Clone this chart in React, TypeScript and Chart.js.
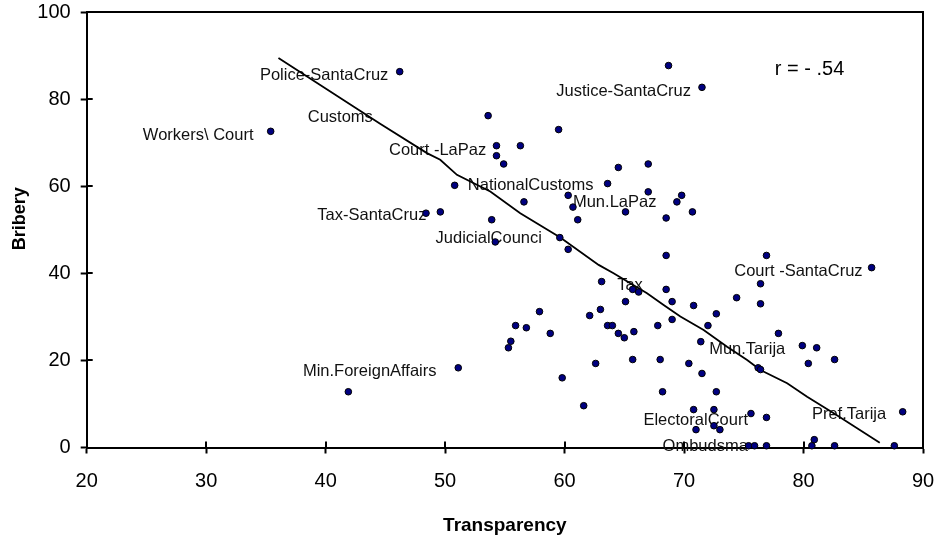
import React, { useEffect, useRef } from "react";
import { Chart, registerables } from "chart.js";

Chart.register(...registerables);

const FONT = "'Liberation Sans', Arial, Helvetica, sans-serif";

// Scatter data: Transparency (x) vs Bribery (y)
const transparency = [
  35.4, 46.2, 68.7, 71.5, 53.6, 59.5, 54.3, 56.3, 54.3, 54.9,
  64.5, 67.0, 50.8, 63.6, 67.0, 60.3, 56.6, 60.7, 65.1, 69.4,
  69.8, 70.7, 68.5, 61.1, 48.4, 49.6, 53.9, 54.2, 59.6, 60.3,
  68.5, 63.1, 65.7, 66.2, 68.5, 65.1, 69.0, 57.9, 63.0, 62.1,
  69.0, 55.9, 56.8, 63.6, 64.0, 67.8, 65.8, 64.5, 65.0, 58.8,
  55.5, 55.3, 51.1, 62.6, 65.7, 68.0, 59.8, 68.2, 61.6, 41.9,
  76.9, 85.7, 76.4, 76.4, 70.8, 74.4, 72.7, 72.0, 71.4, 77.9,
  79.9, 81.1, 82.6, 80.4, 76.2, 76.4, 70.4, 71.5, 72.7, 70.8,
  72.5, 75.6, 76.9, 71.0, 73.0, 72.5, 75.4, 75.9, 76.9, 80.7,
  80.9, 82.6, 87.6, 88.3,
];
const bribery = [
  72.6, 86.3, 87.7, 82.7, 76.2, 73.0, 69.3, 69.3, 67.0, 65.1,
  64.3, 65.1, 60.2, 60.6, 58.7, 57.9, 56.4, 55.2, 54.1, 56.4,
  57.9, 54.1, 52.7, 52.3, 53.8, 54.1, 52.3, 47.2, 48.2, 45.5,
  44.1, 38.1, 36.3, 35.7, 36.3, 33.5, 33.5, 31.2, 31.7, 30.3,
  29.4, 28.0, 27.5, 28.0, 28.0, 28.0, 26.6, 26.2, 25.2, 26.2,
  24.4, 22.9, 18.3, 19.3, 20.2, 20.2, 16.0, 12.8, 9.6, 12.8,
  44.1, 41.3, 37.6, 33.0, 32.6, 34.4, 30.7, 28.0, 24.3, 26.2,
  23.4, 22.9, 20.2, 19.3, 18.3, 17.9, 19.3, 17.0, 12.8, 8.7,
  8.7, 7.8, 6.9, 4.1, 4.1, 5.0, 0.4, 0.4, 0.4, 0.4,
  1.8, 0.4, 0.4, 8.2,
];

// Fitted trend line
const fitX = [36.05, 44.56, 48.48, 49.59, 50.99, 53.78, 56.29, 59.64, 62.85, 64.1, 66.9, 68.29, 69.69, 71.64, 73.6, 75.28, 76.39, 78.63, 80.3, 82.53, 86.38];
const fitY = [89.43, 74.33, 67.6, 66.06, 62.61, 58.78, 53.81, 48.21, 41.93, 40.03, 35.43, 32.74, 30.06, 27.0, 23.16, 20.11, 17.81, 14.75, 11.67, 7.86, 1.1];

// Point labels (text, anchor at left-middle of text in data units)
const labelTexts = [
  "Police-SantaCruz", "Workers\\ Court", "Customs", "Court -LaPaz", "NationalCustoms",
  "Mun.LaPaz", "Tax-SantaCruz", "JudicialCounci", "Tax", "Court -SantaCruz",
  "Mun.Tarija", "Min.ForeignAffairs", "ElectoralCourt", "Ombudsma", "Pref.Tarija",
  "Justice-SantaCruz",
];
const labelX = [34.5, 24.7, 38.5, 45.3, 51.9, 60.7, 39.3, 49.2, 64.4, 74.2, 72.1, 38.1, 66.6, 68.2, 80.7, 59.3];
const labelY = [85.5, 71.6, 75.8, 68.3, 60.1, 56.2, 53.3, 47.9, 37.2, 40.5, 22.5, 17.4, 6.1, 0.2, 7.5, 81.8];

const rText = "r = - .54";
const rX = 77.6;
const rY = 86.9;

const xTicks = [20, 30, 40, 50, 60, 70, 80, 90];
const yTicks = [0, 20, 40, 60, 80, 100];

const xTitle = "Transparency";
const yTitle = "Bribery";

const annotationsPlugin = {
  id: "annotations",
  beforeDatasetsDraw(chart: any) {
    const { ctx } = chart;
    const xs = chart.scales.x;
    const ys = chart.scales.y;
    ctx.save();
    ctx.fillStyle = "#111";
    ctx.textAlign = "left";
    ctx.textBaseline = "middle";
    ctx.font = `16.5px ${FONT}`;
    labelTexts.forEach((t, i) => {
      ctx.fillText(t, xs.getPixelForValue(labelX[i]), ys.getPixelForValue(labelY[i]));
    });
    ctx.fillStyle = "#000";
    ctx.font = `20px ${FONT}`;
    ctx.fillText(rText, xs.getPixelForValue(rX), ys.getPixelForValue(rY));
    ctx.restore();
  },
  afterDraw(chart: any) {
    const { ctx, chartArea } = chart;
    const xs = chart.scales.x;
    const ys = chart.scales.y;
    const { left, right, top, bottom } = chartArea;
    ctx.save();
    ctx.strokeStyle = "#000";
    ctx.lineWidth = 2;
    ctx.beginPath();
    ctx.moveTo(left, top);
    ctx.lineTo(right, top);
    ctx.lineTo(right, bottom);
    ctx.stroke();
    // inward halves of the crossing tick marks
    ctx.beginPath();
    xTicks.forEach((v) => {
      const px = Math.round(xs.getPixelForValue(v));
      ctx.moveTo(px, bottom);
      ctx.lineTo(px, bottom - 6);
    });
    yTicks.forEach((v) => {
      const py = Math.round(ys.getPixelForValue(v));
      ctx.moveTo(left, py);
      ctx.lineTo(left + 6, py);
    });
    ctx.stroke();
    // y axis title
    ctx.translate(20, (top + bottom) / 2 - 11);
    ctx.rotate(-Math.PI / 2);
    ctx.fillStyle = "#000";
    ctx.font = `bold 18px ${FONT}`;
    ctx.textAlign = "center";
    ctx.textBaseline = "middle";
    ctx.fillText(yTitle, 0, 0);
    ctx.restore();
  },
};

export default function App() {
  const canvasRef = useRef<HTMLCanvasElement | null>(null);

  useEffect(() => {
    const canvas = canvasRef.current;
    if (!canvas) return;
    const points = transparency.map((x, i) => ({ x, y: bribery[i] }));
    const fit = fitX.map((x, i) => ({ x, y: fitY[i] }));
    const chart = new Chart(canvas, {
      type: "scatter",
      data: {
        datasets: [
          {
            label: "Agencies",
            data: points,
            pointRadius: 3.3,
            pointBackgroundColor: "#000080",
            pointBorderColor: "#000",
            pointBorderWidth: 1,
            showLine: false,
            clip: false,
          } as any,
          {
            label: "Fit",
            data: fit,
            showLine: true,
            borderColor: "#000",
            borderWidth: 1.8,
            pointRadius: 0,
            fill: false,
            tension: 0,
          } as any,
        ],
      },
      options: {
        animation: false,
        responsive: false,
        maintainAspectRatio: false,
        layout: { padding: { top: 12, right: 15, left: 0, bottom: 0 } },
        plugins: {
          legend: { display: false },
          tooltip: { enabled: false },
        },
        scales: {
          x: {
            type: "linear",
            min: 20,
            max: 90,
            afterBuildTicks: (s: any) => {
              s.ticks = xTicks.map((v) => ({ value: v }));
            },
            afterFit: (s: any) => {
              s.height = 91.5;
              s.paddingLeft = 0;
              s.paddingRight = 0;
              s.paddingTop = 0;
              s.paddingBottom = 0;
            },
            ticks: {
              font: { family: FONT, size: 20 },
              color: "#000",
              padding: 16,
            },
            grid: {
              drawOnChartArea: false,
              drawTicks: true,
              tickLength: 6,
              tickColor: "#000",
              tickWidth: 2,
              color: "#000",
            },
            border: { display: true, color: "#000", width: 2 },
            title: {
              display: true,
              text: xTitle,
              color: "#000",
              font: { family: FONT, size: 19, weight: "bold" },
              padding: { top: 0, bottom: 1.5 },
            },
          },
          y: {
            type: "linear",
            min: 0,
            max: 100,
            afterBuildTicks: (s: any) => {
              s.ticks = yTicks.map((v) => ({ value: v }));
            },
            afterFit: (s: any) => {
              s.width = 86.7;
              s.paddingLeft = 0;
              s.paddingRight = 0;
              s.paddingTop = 0;
              s.paddingBottom = 0;
            },
            ticks: {
              font: { family: FONT, size: 20 },
              color: "#000",
              padding: 10,
            },
            grid: {
              drawOnChartArea: false,
              drawTicks: true,
              tickLength: 6,
              tickColor: "#000",
              tickWidth: 2,
              color: "#000",
            },
            border: { display: true, color: "#000", width: 2 },
            title: { display: false },
          },
        },
      } as any,
      plugins: [annotationsPlugin],
    });
    return () => chart.destroy();
  }, []);

  return (
    <div style={{ position: "fixed", left: 0, top: 0, width: 938, height: 539, background: "#fff" }}>
      <canvas ref={canvasRef} width={938} height={539} style={{ width: 938, height: 539, display: "block" }} />
    </div>
  );
}
